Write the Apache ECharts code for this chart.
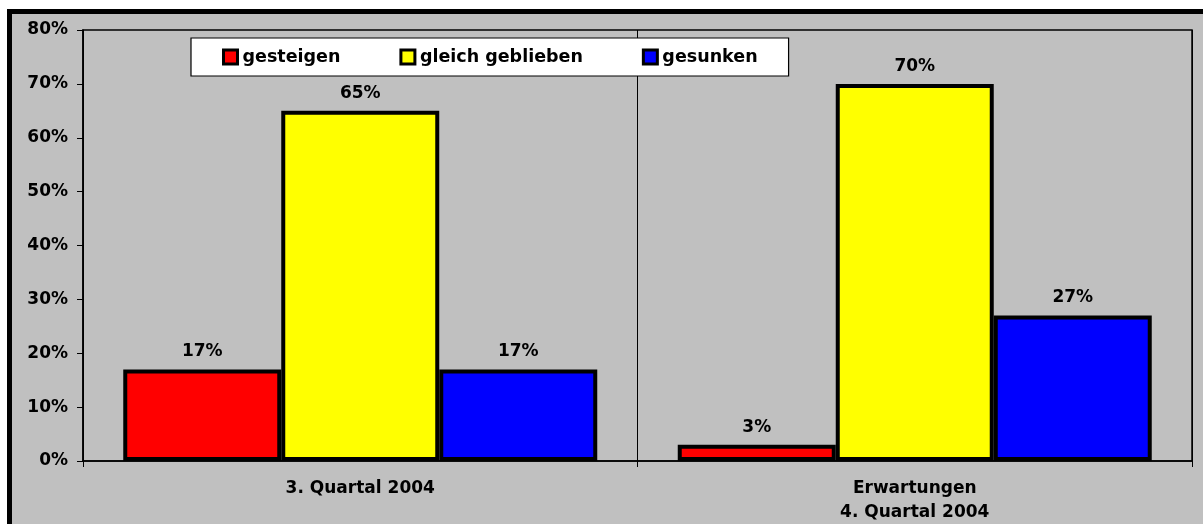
<!DOCTYPE html>
<html>
<head>
<meta charset="utf-8">
<script src="https://cdn.jsdelivr.net/npm/echarts@6/dist/echarts.min.js"></script>
<style>
  html, body { margin: 0; padding: 0; background: #ffffff; width: 1203px; height: 524px; overflow: hidden; }
  #frame { position: absolute; left: 7px; top: 9px; width: 1220px; height: 540px; border: 5px solid #000; background: #c0c0c0; }
  #chart { position: absolute; left: 0; top: 0; width: 1203px; height: 524px; }
</style>
</head>
<body>
<div id="frame"></div>
<div id="chart"></div>
<script>
const categories = ['3. Quartal 2004', 'Erwartungen\n4. Quartal 2004'];
const seriesNames = ['gesteigen', 'gleich geblieben', 'gesunken'];
const gesteigen = [17, 3];
const gleichGeblieben = [65, 70];
const gesunken = [17, 27];
const yTicks = [0, 10, 20, 30, 40, 50, 60, 70, 80];
const colors = ['#ff0000', '#ffff00', '#0000ff'];

const FONT = 'DejaVu Sans';
const values = [gesteigen, gleichGeblieben, gesunken];

const chart = echarts.init(document.getElementById('chart'), null, { renderer: 'canvas' });
chart.setOption({
  backgroundColor: 'transparent',
  animation: false,
  grid: {
    left: 83, right: 11, top: 30, bottom: 63,
    containLabel: false,
    outerBoundsMode: 'none',
    show: true, borderColor: '#000', borderWidth: 1.5, backgroundColor: 'transparent'
  },
  legend: {
    data: seriesNames,
    top: 38,
    left: 191,
    padding: [10, 31, 10, 31],
    itemGap: 59,
    itemWidth: 14,
    itemHeight: 14,
    backgroundColor: '#ffffff',
    borderColor: '#000',
    borderWidth: 1.2,
    icon: 'rect',
    itemStyle: { borderColor: '#000', borderWidth: 3 },
    textStyle: { fontFamily: FONT, fontWeight: 'bold', fontSize: 17.5, color: '#000' }
  },
  xAxis: {
    type: 'category',
    data: categories,
    axisLine: { lineStyle: { color: '#000', width: 1.5 } },
    axisTick: { show: true, length: 6, lineStyle: { color: '#000', width: 1 } },
    splitLine: { show: true, lineStyle: { color: '#000', width: 1 } },
    axisLabel: {
      margin: 16,
      fontFamily: FONT, fontWeight: 'bold', fontSize: 17, color: '#000',
      lineHeight: 24
    }
  },
  yAxis: {
    type: 'value',
    min: yTicks[0],
    max: yTicks[yTicks.length - 1],
    interval: yTicks[1] - yTicks[0],
    axisLine: { show: true, lineStyle: { color: '#000', width: 1.5 } },
    axisTick: { show: true, length: 6, inside: false, lineStyle: { color: '#000', width: 1 } },
    splitLine: { show: false },
    axisLabel: {
      margin: 15,
      padding: [3, 0, 0, 0],
      formatter: '{value}%',
      fontFamily: FONT, fontWeight: 'bold', fontSize: 17, color: '#000'
    }
  },
  series: seriesNames.map((name, i) => ({
    name: name,
    type: 'bar',
    data: values[i],
    barGap: '0%',
    barWidth: 158,
    itemStyle: { color: colors[i], borderColor: '#000', borderWidth: 4 },
    label: {
      show: true,
      position: 'top',
      distance: 9,
      formatter: '{c}%',
      fontFamily: FONT, fontWeight: 'bold', fontSize: 17, color: '#000'
    }
  }))
});
</script>
</body>
</html>
